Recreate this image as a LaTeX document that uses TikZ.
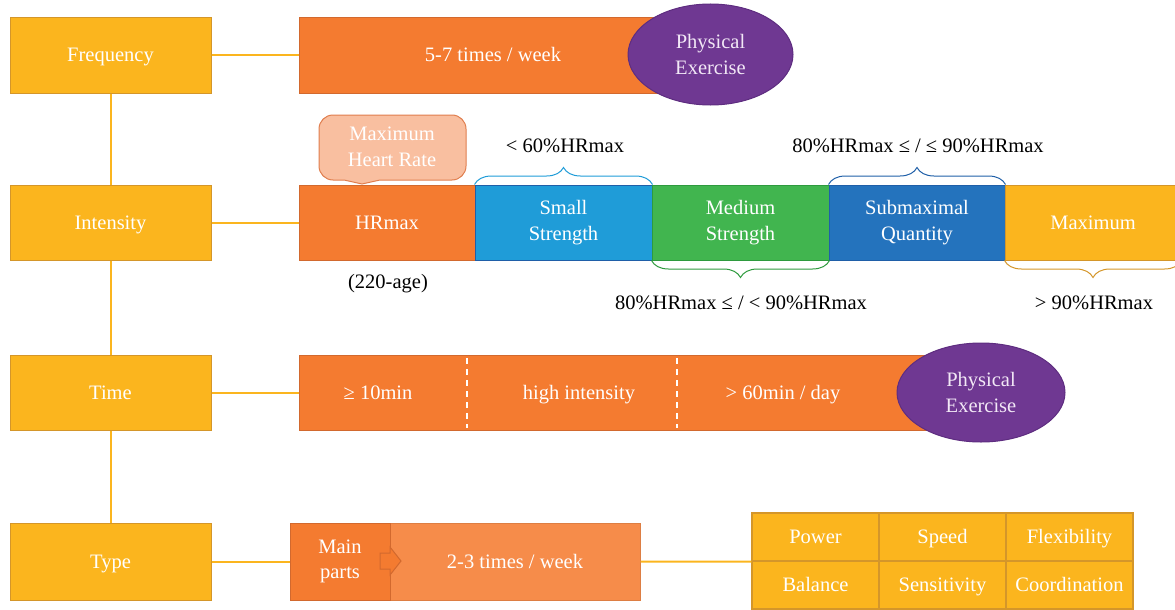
\documentclass[tikz,border=0pt]{standalone}
\usepackage{fontspec}
\setmainfont{Liberation Serif}
\usetikzlibrary{shapes.geometric,decorations.pathreplacing}

\definecolor{gold}{HTML}{FBB51E}
\definecolor{goldline}{HTML}{D4962A}
\definecolor{orng}{HTML}{F47B30}
\definecolor{orngline}{HTML}{D2692E}
\definecolor{ornglight}{HTML}{F68C4A}
\definecolor{skyblue}{HTML}{1F9CD8}
\definecolor{grn}{HTML}{41B54F}
\definecolor{grnline}{HTML}{2E9A3E}
\definecolor{deepblue}{HTML}{2473BD}
\definecolor{deepblueline}{HTML}{1F5FA8}
\definecolor{purp}{HTML}{6F3892}
\definecolor{purpline}{HTML}{5E2D80}
\definecolor{peach}{HTML}{F9BFA0}
\definecolor{peachline}{HTML}{E07E4E}
\definecolor{lavender}{HTML}{F2E8F6}

\tikzset{
  txt/.style={font=\fontsize{20.5}{25.5}\selectfont, align=center, inner sep=0pt,
              text height=16pt, text depth=3pt},
  two/.style={text height={}, text depth={}},
  cat/.style={txt, fill=gold, draw=goldline, line width=1pt, text=white,
              minimum width=201pt, minimum height=75pt},
  bar/.style={txt, fill=orng, draw=orngline, line width=1pt, text=white,
              minimum height=75pt},
  seg/.style={txt, draw=none, text=white, minimum height=75pt},
  oval/.style={txt, two, ellipse, fill=purp, draw=purpline, line width=1pt,
               text=lavender},
  cell/.style={txt, fill=gold, draw=goldline, line width=1.2pt, text=white,
               minimum width=127pt, minimum height=48pt},
  link/.style={draw=gold, line width=2pt},
  lbl/.style={txt, text=black},
  brc/.style={decorate, decoration={brace, amplitude=17pt}, line width=1pt},
}

\begin{document}
\begin{tikzpicture}[x=1pt, y=-1pt]
\useasboundingbox (0,0) rectangle (1175,610);

% categories on the left
\node[cat] (freq) at (110.5,55.5) {Frequency};
\node[cat] (inten) at (110.5,222.5) {Intensity};
\node[cat] (time) at (110.5,392.5) {Time};
\node[cat, minimum height=77pt] (type) at (110.5,561.5) {Type};

\draw[link] (freq.south) -- (inten.north);
\draw[link] (inten.south) -- (time.north);
\draw[link] (time.south) -- (type.north);

% frequency row
\node[bar, minimum width=388pt] (freqbar) at (493,55.5) {5-7 times / week};
\node[oval, minimum width=165pt, minimum height=101pt] (ex1) at (710.5,54.5) {Physical\\Exercise};
\draw[link] (freq.east) -- (freqbar.west);

% intensity row
\node[bar, minimum width=176pt] (hr) at (387,222.5) {HRmax};
\node[bar, two, fill=skyblue, draw=deepblueline, minimum width=177pt] (small) at (563.5,222.5) {Small\\Strength};
\node[bar, two, fill=grn, draw=grnline, minimum width=177pt] (medium) at (740.5,222.5) {Medium\\Strength};
\node[bar, two, fill=deepblue, draw=deepblueline, minimum width=176pt] (submax) at (917,222.5) {Submaximal\\Quantity};
\node[bar, fill=gold, draw=goldline, minimum width=176pt] (maxi) at (1093,222.5) {Maximum};
\draw[link] (inten.east) -- (hr.west);

% callout above HRmax
\draw[fill=peach, draw=peachline, line width=1pt]
  [rounded corners=14pt] (380,180) -- (466,180) -- (466,115) -- (319,115) -- (319,180)
  [sharp corners] -- (344,180) -- (362,184) -- cycle;
\node[txt, two, text=white] (mhr) at (392,147) {Maximum\\Heart Rate};
\node[lbl] (age) at (388,282) {(220-age)};

% ranges
\draw[brc, draw=skyblue] (small.north west) -- (small.north east);
\node[lbl] (r1) at (565,146) {< 60\%HRmax};
\draw[brc, draw=deepblueline] (submax.north west) -- (submax.north east);
\node[lbl] (r3) at (918,146) {80\%HRmax ≤ / ≤ 90\%HRmax};
\draw[brc, draw=grnline] (medium.south east) -- (medium.south west);
\node[lbl] (r2) at (741,303) {80\%HRmax ≤ / < 90\%HRmax};
\draw[brc, draw=goldline] (maxi.south east) -- (maxi.south west);
\node[lbl] (r4) at (1094,303) {> 90\%HRmax};

% time row
\node[bar, minimum width=661pt] (timebar) at (629.5,392.5) {};
\node[seg] (t1) at (378,392.5) {≥ 10min};
\node[seg] (t2) at (579,392.5) {high intensity};
\node[seg] (t3) at (783,392.5) {> 60min / day};
\draw[white, line width=1.2pt, dash pattern=on 6pt off 5pt] (467,358) -- (467,428);
\draw[white, line width=1.2pt, dash pattern=on 6pt off 5pt] (677,358) -- (677,428);
\node[oval, minimum width=168pt, minimum height=99pt] (ex2) at (981,392.5) {Physical\\Exercise};
\draw[link] (time.east) -- (timebar.west);

% type row
\node[bar, fill=ornglight, draw=ornglight!90!black, minimum width=250pt, minimum height=77pt] (week) at (515,561.5) {2-3 times / week};
\node[bar, two, minimum width=100pt, minimum height=77pt] (main) at (340,561.5) {Main\\parts};
\draw[fill=orng, draw=orngline, line width=1pt]
  (380,553) -- (390,553) -- (390,547) -- (401,561) -- (390,575) -- (390,569) -- (380,569) -- cycle;
\draw[link] (type.east) -- (main.west);

\node[cell] (power) at (815.5,537) {Power};
\node[cell] (speed) at (942.5,537) {Speed};
\node[cell] (flex) at (1069.5,537) {Flexibility};
\node[cell] (bal) at (815.5,585) {Balance};
\node[cell] (sens) at (942.5,585) {Sensitivity};
\node[cell] (coord) at (1069.5,585) {Coordination};
\coordinate (gridin) at (power.south west);
\draw[link] (week.east) -- (gridin);
\end{tikzpicture}
\end{document}
